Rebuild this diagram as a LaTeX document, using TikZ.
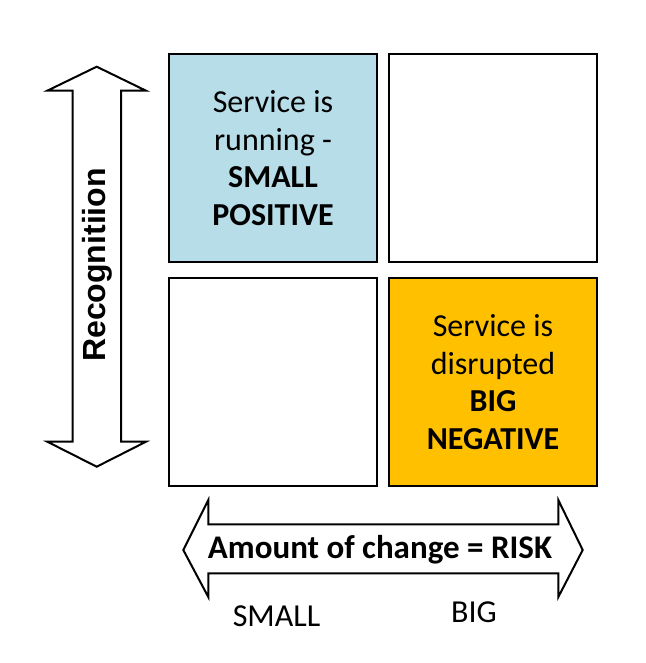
\documentclass[tikz,border=0pt]{standalone}
\usepackage{fontspec}
\setmainfont{Carlito}
\newfontfamily\arialfont{Liberation Sans}
\usetikzlibrary{positioning}
\definecolor{paleblue}{HTML}{B7DDE8}
\definecolor{amber}{HTML}{FFC000}
\begin{document}
\begin{tikzpicture}[
  x=0.5pt, y=-0.5pt,
  node distance=5pt,
  cell/.style={draw, line width=1pt, align=center, minimum width=104pt, minimum height=104pt, inner sep=0pt, font=\fontsize{16}{18.8}\selectfont},
  fatarrow/.style={draw, line width=1pt, fill=white, line join=miter},
  label/.style={font=\fontsize{16}{18.8}\selectfont}
]
\useasboundingbox (0,0) rectangle (646,663);
\node[cell, fill=paleblue] (smallpos) at (273,158) {Service is\\running -\\\textbf{SMALL}\\\textbf{POSITIVE}};
\node[cell, right=of smallpos] (topright) {};
\node[cell, below=7pt of smallpos] (bottomleft) {};
\node[cell, fill=amber, right=of bottomleft] (bigneg) {Service is\\disrupted\\\textbf{BIG}\\\textbf{NEGATIVE}};
\draw[fatarrow] (96.7,66.7) -- (146,90.7) -- (121,90.7) -- (121,441.7) -- (146,441.7) -- (96.7,466.7)
  -- (47.3,441.7) -- (72.7,441.7) -- (72.7,90.7) -- (47.3,90.7) -- cycle;
\node[rotate=90, font=\arialfont\bfseries\fontsize{16}{19}\selectfont] (recog) at (97,265) {Recognitiion};
\draw[fatarrow] (183.3,550) -- (208.3,500) -- (208.3,524.3) -- (558.3,524.3) -- (558.3,500) -- (582.7,550)
  -- (558.3,597) -- (558.3,573.3) -- (208.3,573.3) -- (208.3,597) -- cycle;
\node[label, font=\bfseries\fontsize{16.5}{18.8}\selectfont] (risk) at (380,550) {Amount of change = RISK};
\node[label] (small) at (276.5,616) {SMALL};
\node[label] (big) at (474,612) {BIG};
\end{tikzpicture}
\end{document}
